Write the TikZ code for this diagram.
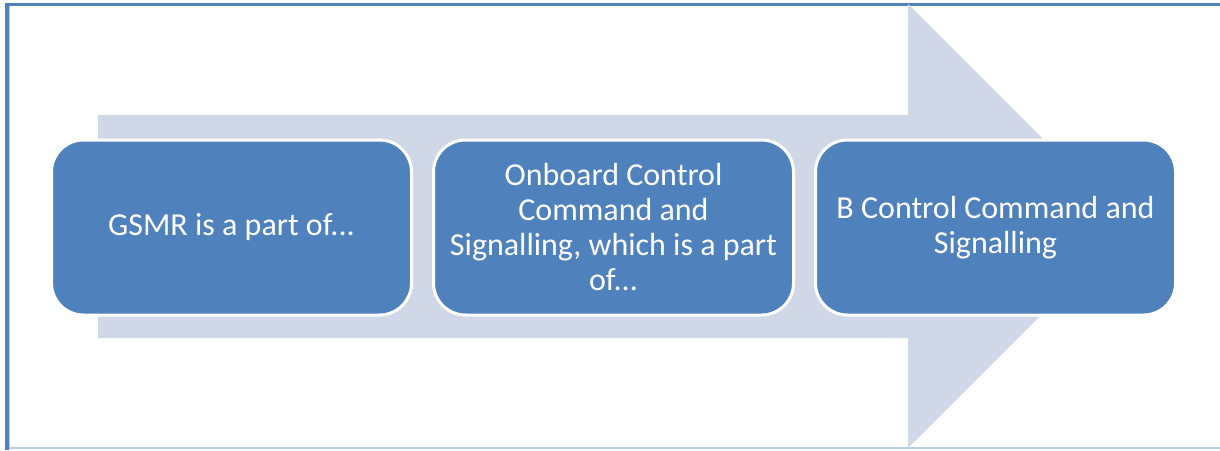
\documentclass[tikz,border=0pt]{standalone}
\usepackage{fontspec}
\setmainfont{Carlito}
\usetikzlibrary{positioning}
\definecolor{boxblue}{RGB}{79,129,189}
\definecolor{arrowgrey}{RGB}{208,216,232}
\definecolor{framelight}{RGB}{185,205,229}

\begin{document}
\begin{tikzpicture}[x=1pt,y=-1pt,node distance=19pt,
	stage/.style={rectangle,rounded corners=32pt,fill=boxblue,draw=white,line width=3pt,
		minimum width=360pt,minimum height=175pt,inner sep=0pt,text=white,align=center,
		font=\fontsize{32}{35}\selectfont}]
	\useasboundingbox (0,0) rectangle (1220,450);
	% frame
	\fill[boxblue] (5,3) rectangle (1220,6);
	\fill[boxblue] (5,3) rectangle (9,450);
	\fill[framelight] (9,6) rectangle (10,448);
	\fill[framelight] (9,447) rectangle (1220,449);
	% big arrow behind
	\fill[arrowgrey] (98,115) -- (908,115) -- (908,4) -- (1130,226) -- (908,448)
		-- (908,338) -- (98,338) -- cycle;
	% stages
	\node[stage] (gsmr) at (231.5,227.5) {GSMR is a part of...};
	\node[stage, right=of gsmr] (onboard) {Onboard Control\\Command and\\Signalling, which is a part\\of...};
	\node[stage, right=of onboard] (bccs) {B Control Command and\\Signalling};
\end{tikzpicture}
\end{document}
